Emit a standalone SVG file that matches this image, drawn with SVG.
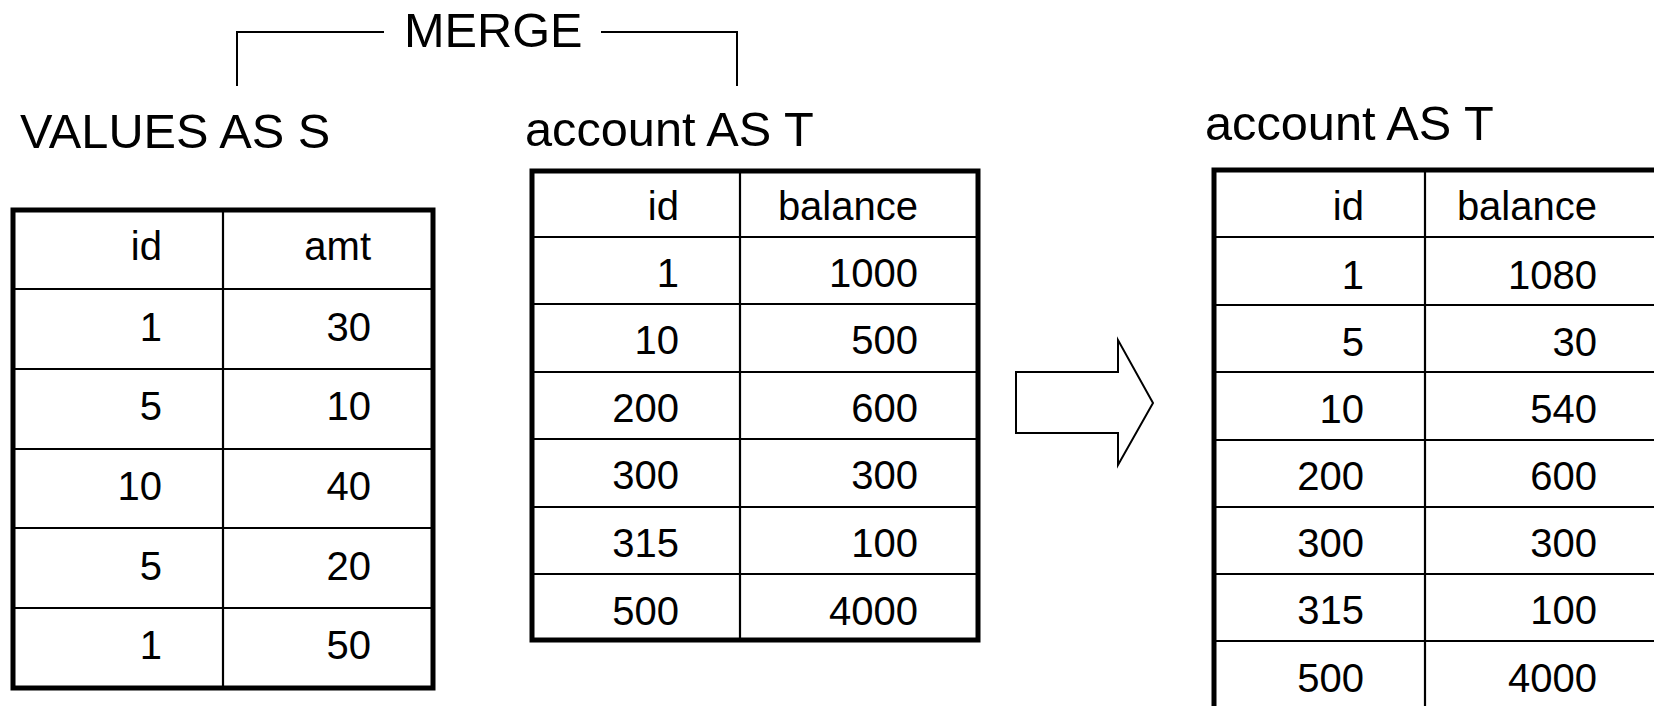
<svg xmlns="http://www.w3.org/2000/svg" width="1654" height="706" viewBox="0 0 1654 706">
<style>
  text { font-family: "Liberation Sans", Arial, Helvetica, sans-serif; fill: #000; }
  .title { font-size: 48.7px; }
  .cell { font-size: 40px; text-anchor: end; }
  .outer { fill: none; stroke: #000; stroke-width: 5; }
  .grid { fill: none; stroke: #000; stroke-width: 2.2; }
  .conn { fill: none; stroke: #000; stroke-width: 2; }
</style>
<rect width="1654" height="706" fill="#fff"/>

<g id="connectors">
  <polyline class="conn" points="237,86 237,32 384,32"/>
  <polyline class="conn" points="601,32 737,32 737,86"/>
  <polygon id="arrow" class="conn" points="1016,372 1118,372 1118,340 1153,403 1118,465 1118,433 1016,433"/>
</g>

<g id="merge-label">
  <text class="title" x="404" y="47">MERGE</text>
</g>

<g id="source-values">
  <text class="title" x="20" y="148">VALUES AS S</text>
  <path class="grid" d="M223,210 V688 M13,289 H433 M13,369 H433 M13,449 H433 M13,528 H433 M13,608 H433"/>
  <rect class="outer" x="13" y="210" width="420" height="478"/>
  <text class="cell" x="162" y="260">id</text>
  <text class="cell" x="371" y="260">amt</text>
  <text class="cell" x="162" y="341">1</text>
  <text class="cell" x="371" y="341">30</text>
  <text class="cell" x="162" y="420">5</text>
  <text class="cell" x="371" y="420">10</text>
  <text class="cell" x="162" y="500">10</text>
  <text class="cell" x="371" y="500">40</text>
  <text class="cell" x="162" y="580">5</text>
  <text class="cell" x="371" y="580">20</text>
  <text class="cell" x="162" y="659">1</text>
  <text class="cell" x="371" y="659">50</text>
</g>

<g id="target-before">
  <text class="title" x="525" y="146">account AS T</text>
  <path class="grid" d="M740,171 V640 M532,237 H978 M532,304 H978 M532,372 H978 M532,439 H978 M532,507 H978 M532,574 H978"/>
  <rect class="outer" x="532" y="171" width="446" height="469"/>
  <text class="cell" x="679" y="220">id</text>
  <text class="cell" x="918" y="220">balance</text>
  <text class="cell" x="679" y="287">1</text>
  <text class="cell" x="918" y="287">1000</text>
  <text class="cell" x="679" y="354">10</text>
  <text class="cell" x="918" y="354">500</text>
  <text class="cell" x="679" y="422">200</text>
  <text class="cell" x="918" y="422">600</text>
  <text class="cell" x="679" y="489">300</text>
  <text class="cell" x="918" y="489">300</text>
  <text class="cell" x="679" y="557">315</text>
  <text class="cell" x="918" y="557">100</text>
  <text class="cell" x="679" y="625">500</text>
  <text class="cell" x="918" y="625">4000</text>
</g>

<g id="target-after">
  <text class="title" x="1205" y="140">account AS T</text>
  <path class="grid" d="M1425,170 V708 M1214,237 H1680 M1214,305 H1680 M1214,372 H1680 M1214,440 H1680 M1214,507 H1680 M1214,574 H1680 M1214,641 H1680"/>
  <rect class="outer" x="1214" y="170" width="449" height="540"/>
  <text class="cell" x="1364" y="220">id</text>
  <text class="cell" x="1597" y="220">balance</text>
  <text class="cell" x="1364" y="289">1</text>
  <text class="cell" x="1597" y="289">1080</text>
  <text class="cell" x="1364" y="356">5</text>
  <text class="cell" x="1597" y="356">30</text>
  <text class="cell" x="1364" y="423">10</text>
  <text class="cell" x="1597" y="423">540</text>
  <text class="cell" x="1364" y="490">200</text>
  <text class="cell" x="1597" y="490">600</text>
  <text class="cell" x="1364" y="557">300</text>
  <text class="cell" x="1597" y="557">300</text>
  <text class="cell" x="1364" y="624">315</text>
  <text class="cell" x="1597" y="624">100</text>
  <text class="cell" x="1364" y="692">500</text>
  <text class="cell" x="1597" y="692">4000</text>
</g>
</svg>
